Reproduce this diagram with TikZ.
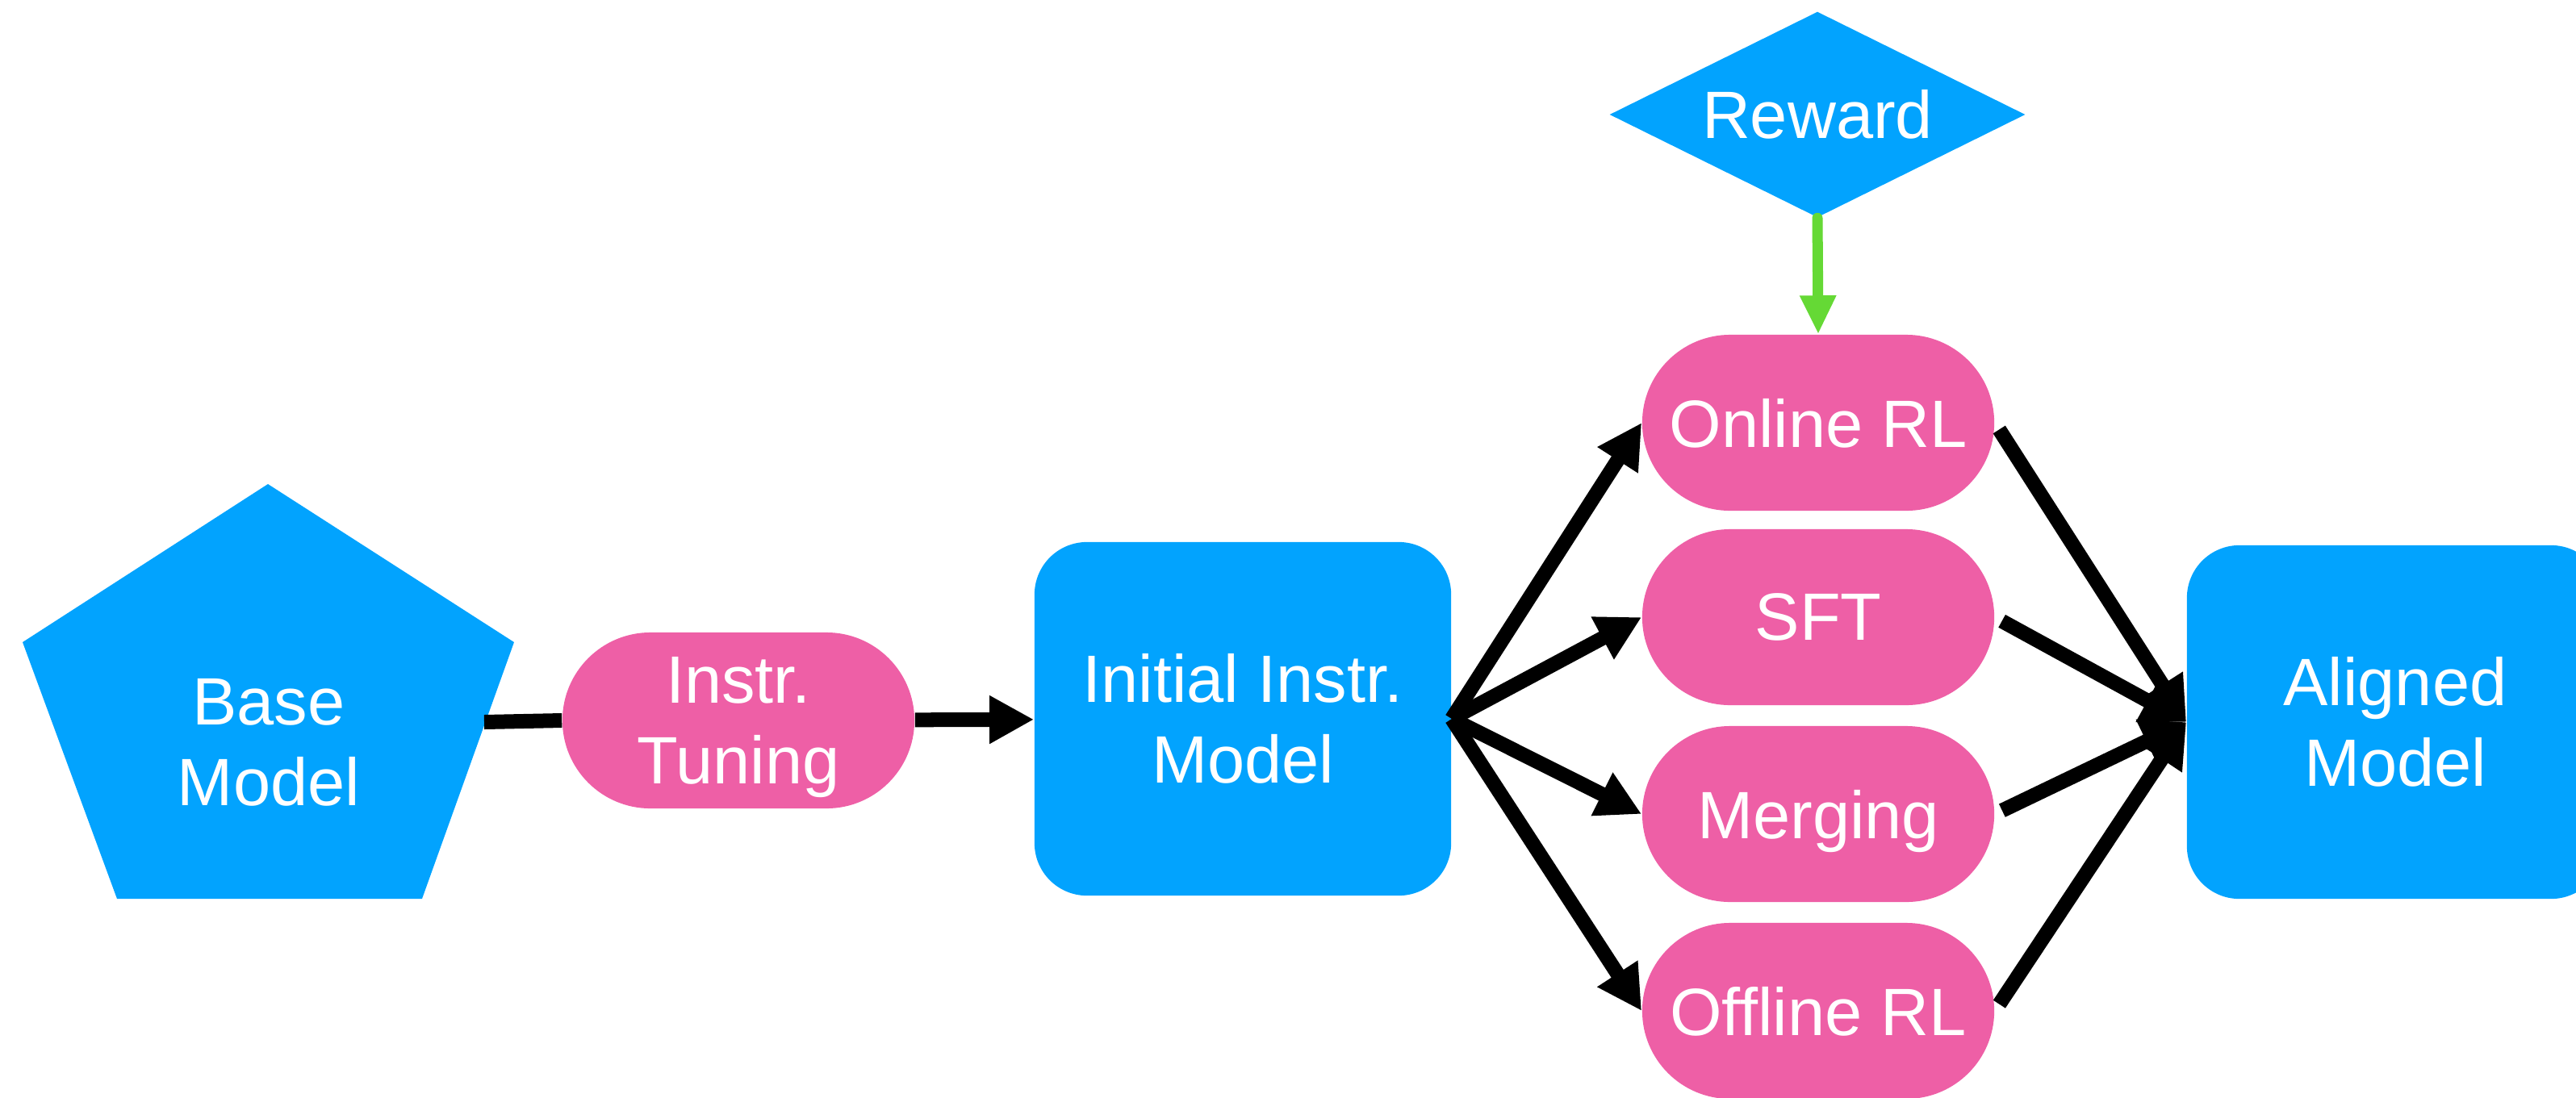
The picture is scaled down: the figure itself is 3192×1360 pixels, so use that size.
\documentclass[tikz,border=0pt]{standalone}
\usepackage{fontspec}
\setmainfont{Liberation Sans}
\usetikzlibrary{positioning,
        shapes,
        arrows.meta}
\definecolor{boxblue}{RGB}{2,163,254}
\definecolor{boxpink}{RGB}{238,95,166}
\definecolor{rewgreen}{RGB}{101,217,53}

\begin{document}
\begin{tikzpicture}[x=0.01cm,y=-0.01cm,
            every node/.style={text=white,inner sep=0pt,align=center,font=\fontsize{23.6}{28.4}\selectfont},
            model/.style={fill=boxblue,rounded corners=0.65cm,minimum width=5.16cm,minimum height=4.38cm},
            algo/.style={fill=boxpink,rounded corners=1.09cm,minimum width=4.36cm,minimum height=2.18cm,text depth=0pt},
            flow/.style={line width=0.18cm,-{Triangle[length=0.55cm,width=0.56cm]}}]
            \clip (0,0) rectangle (3192,1360);
            \fill [boxblue] (332,600) -- (637,796) -- (523,1114) -- (145,1114) -- (28,796) -- cycle;
            \node (base) at (333,920) {Base\\Model};
            \coordinate (base-e) at (600,895);
            \node [algo] (instr) at (915,893) {Instr.\\Tuning};
            \node [model] (init) at (1540,891) {Initial Instr.\\Model};
            \node [diamond,aspect=2,fill=boxblue,minimum width=5.15cm,minimum height=2.55cm] (reward) at (2252,142) {Reward};
            \node [algo] (onl) at (2253,524) {Online RL};
            \node [algo] (sft) at (2253,765) {SFT};
            \node [algo] (merg) at (2253,1009) {Merging};
            \node [algo] (offl) at (2253,1253) {Offline RL};
            \node [model] (aligned) at (2968,895) {Aligned\\Model};

            \draw [line width=0.18cm](base-e) -- (instr.west);
            \draw [flow](instr) -- (init);
            \draw [flow](init.east) -- (onl.west);
            \draw [flow](init.east) -- (sft.west);
            \draw [flow](init.east) -- (merg.west);
            \draw [flow](init.east) -- (offl.west);
            \draw [flow,shorten <=0.1cm](onl.east) -- (aligned.west);
            \draw [flow,shorten <=0.1cm](sft.east) -- (aligned.west);
            \draw [flow,shorten <=0.1cm](merg.east) -- (aligned.west);
            \draw [flow,shorten <=0.1cm](offl.east) -- (aligned.west);
            \draw [rewgreen,line width=0.13cm,line cap=round,-{Triangle[length=0.48cm,width=0.42cm]}](reward.south) -- (onl.north);
        \end{tikzpicture}
\end{document}
